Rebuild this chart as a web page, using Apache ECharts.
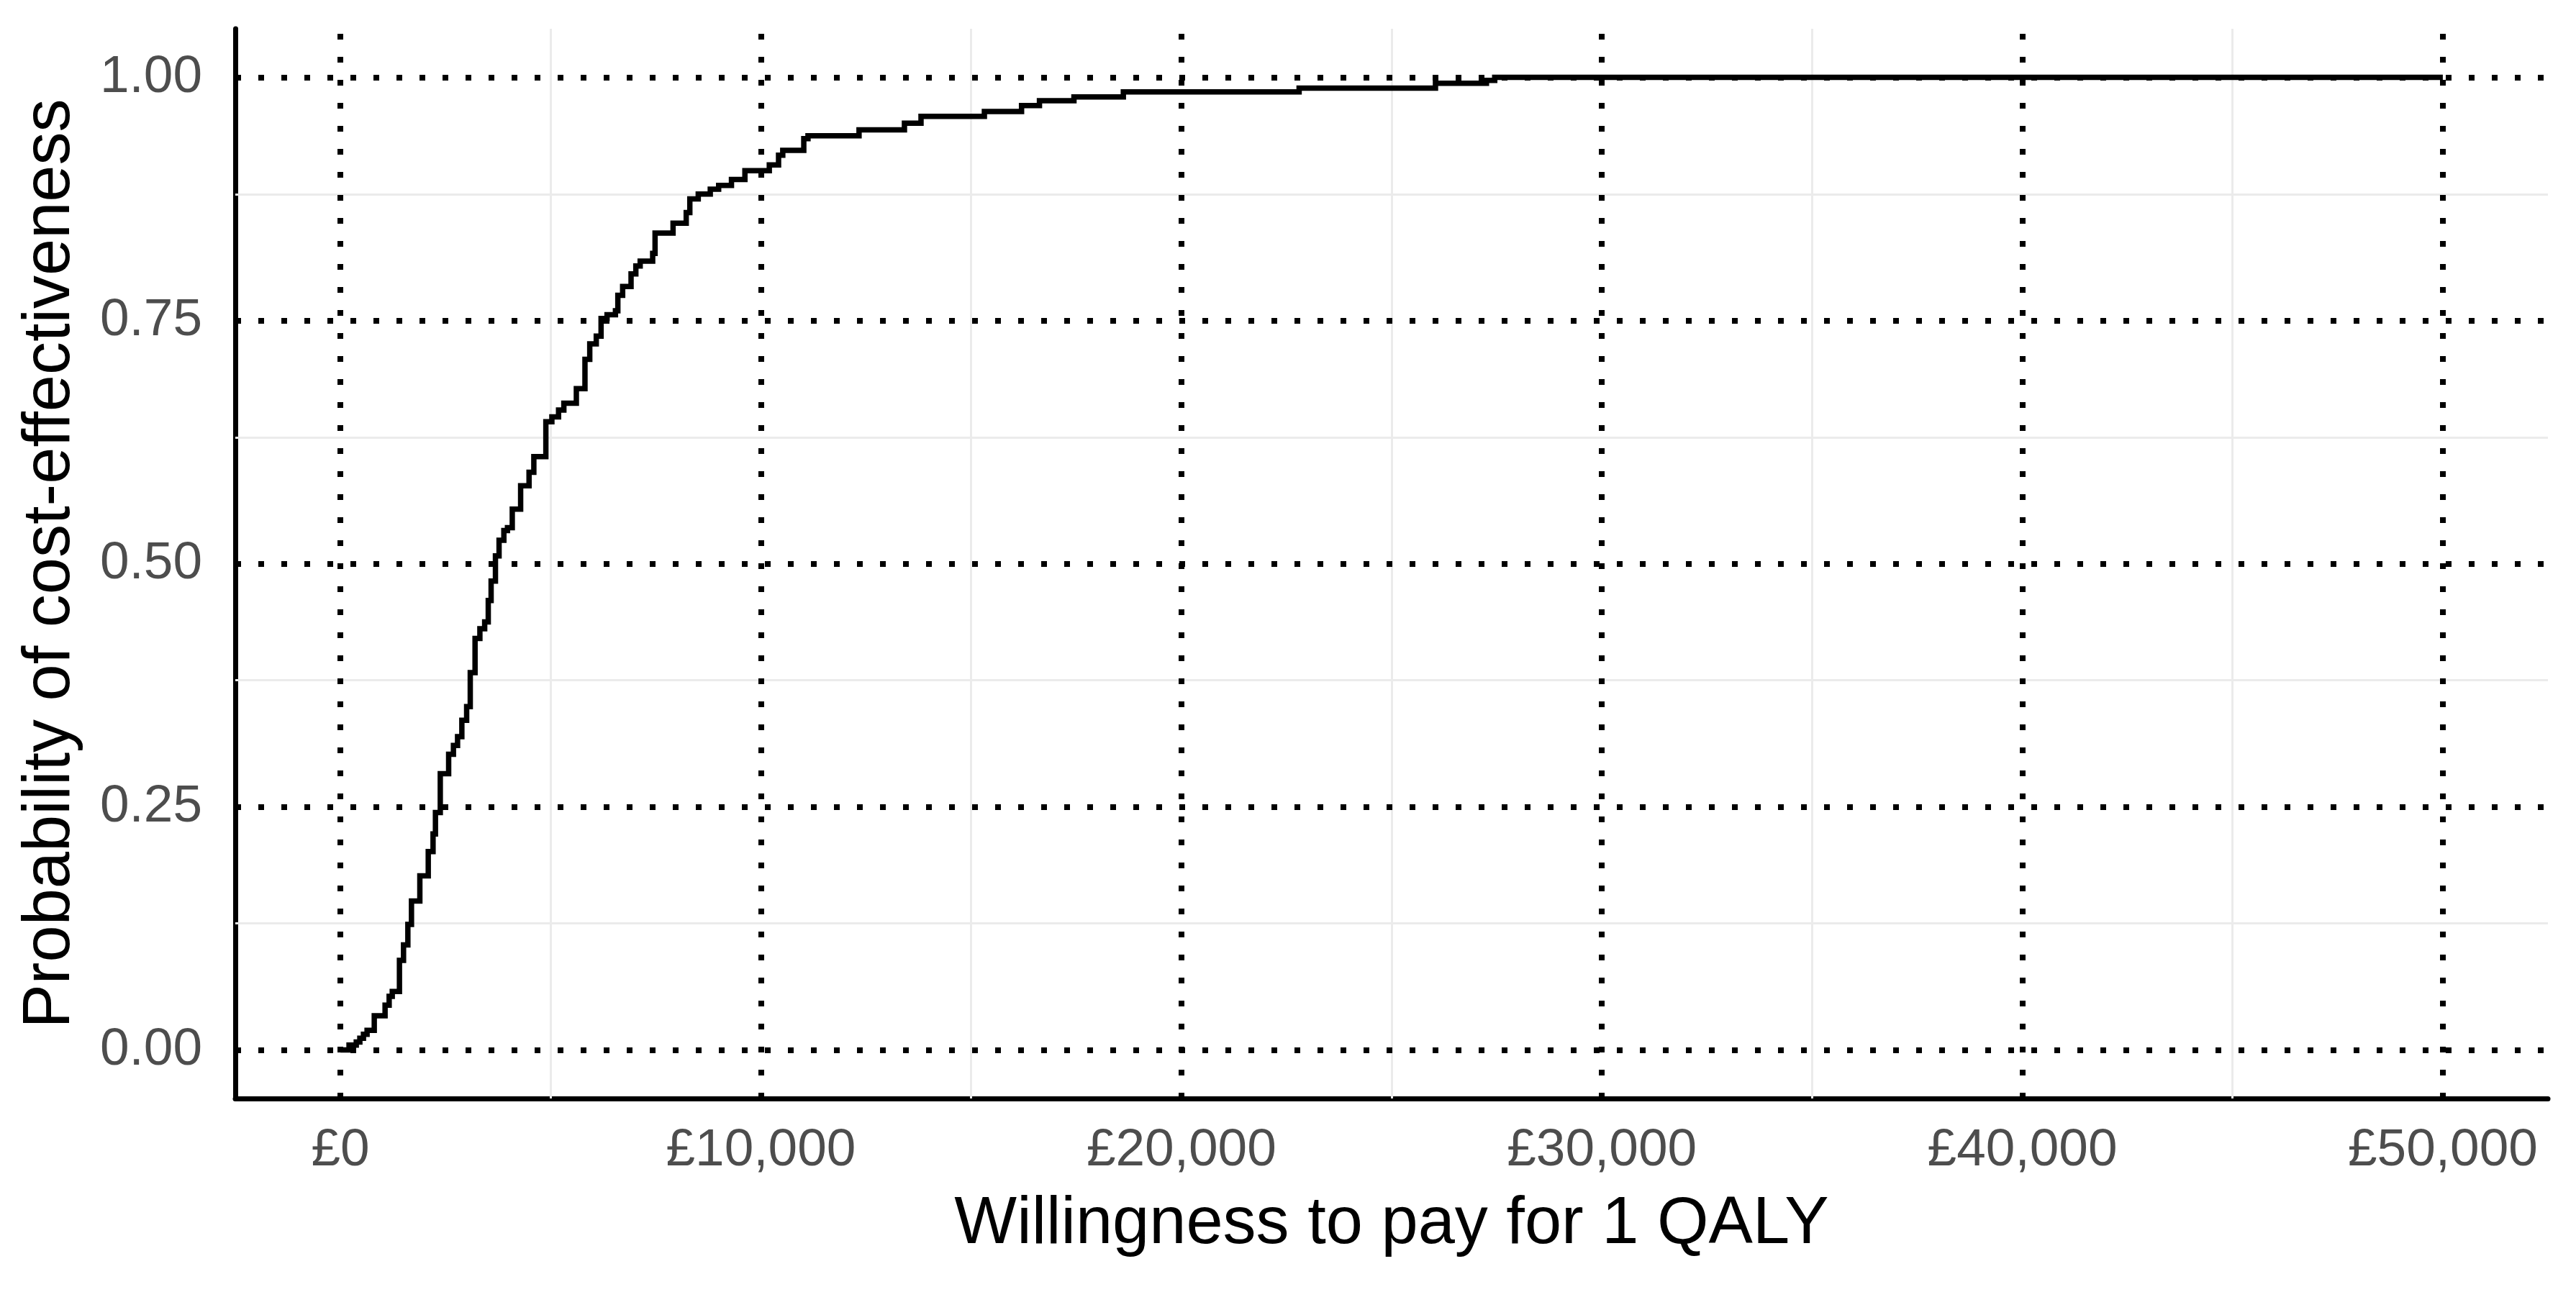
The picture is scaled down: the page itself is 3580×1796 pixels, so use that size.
<!DOCTYPE html>
<html>
<head>
<meta charset="utf-8">
<script src="https://cdn.jsdelivr.net/npm/echarts@6/dist/echarts.min.js"></script>
<style>
html,body{margin:0;padding:0;background:#ffffff;}
#chart{width:3580px;height:1796px;}
</style>
</head>
<body>
<div id="chart"></div>
<script>
// Willingness-to-pay thresholds (GBP) at which the step curve changes
const wtp = [0, 205, 377, 462, 548, 634, 805, 1062, 1159, 1233, 1404, 1501, 1604, 1690, 1889, 2089, 2203, 2260, 2375, 2574, 2688, 2786, 2888, 3002, 3088, 3202, 3317, 3431, 3516, 3584, 3687, 3773, 3887, 3973, 4087, 4286, 4486, 4600, 4886, 5029, 5188, 5314, 5611, 5816, 5930, 6085, 6199, 6341, 6541, 6598, 6712, 6912, 7026, 7129, 7426, 7483, 7911, 8224, 8310, 8510, 8796, 8995, 9300, 9620, 10200, 10420, 10520, 11020, 11120, 12334, 13414, 13808, 15315, 16199, 16625, 17445, 18620, 22800, 26043, 27255, 27452, 50000];
// Probability of cost-effectiveness at each threshold
const prob = [0, 0.005, 0.008, 0.012, 0.016, 0.020, 0.035, 0.046, 0.055, 0.060, 0.092, 0.108, 0.129, 0.153, 0.179, 0.204, 0.222, 0.244, 0.284, 0.304, 0.313, 0.322, 0.339, 0.353, 0.388, 0.423, 0.433, 0.440, 0.462, 0.482, 0.508, 0.524, 0.534, 0.537, 0.556, 0.580, 0.594, 0.610, 0.646, 0.651, 0.658, 0.665, 0.680, 0.710, 0.726, 0.734, 0.752, 0.756, 0.760, 0.776, 0.785, 0.798, 0.806, 0.811, 0.819, 0.840, 0.850, 0.861, 0.875, 0.880, 0.885, 0.889, 0.895, 0.904, 0.910, 0.920, 0.925, 0.937, 0.940, 0.946, 0.953, 0.960, 0.965, 0.971, 0.976, 0.980, 0.985, 0.989, 0.994, 0.997, 1.000, 1.000];

const xTicks = [0, 10000, 20000, 30000, 40000, 50000];
const yTicks = [0, 0.25, 0.5, 0.75, 1];
const xMinor = [5000, 15000, 25000, 35000, 45000];
const yMinor = [0.125, 0.375, 0.625, 0.875];

const xTitle = 'Willingness to pay for 1 QALY';
const yTitle = 'Probability of cost-effectiveness';

const FONT = '"Liberation Sans", Arial, sans-serif';

function gbp(v) {
  return '£' + String(v).replace(/\B(?=(\d{3})+(?!\d))/g, ',');
}

const curve = wtp.map((w, i) => [w, prob[i]]);

const minorLines = xMinor.map(v => ({xAxis: v})).concat(yMinor.map(v => ({yAxis: v})));
const majorLines = xTicks.map(v => ({xAxis: v})).concat(yTicks.map(v => ({yAxis: v})));

const chart = echarts.init(document.getElementById('chart'), null, {renderer: 'canvas'});
chart.setOption({
  animation: false,
  backgroundColor: '#ffffff',
  grid: {left: 327, right: 39, top: 40, bottom: 269, containLabel: false},
  xAxis: {
    type: 'value',
    min: -2500,
    max: 52500,
    name: xTitle,
    nameLocation: 'middle',
    nameGap: 130,
    nameTextStyle: {fontFamily: FONT, fontSize: 92, color: '#000000'},
    axisLine: {show: true, onZero: false, lineStyle: {color: '#000000', width: 7}},
    axisTick: {show: false},
    splitLine: {show: false},
    axisLabel: {
      customValues: xTicks,
      formatter: v => gbp(v),
      fontFamily: FONT, fontSize: 73, color: '#4D4D4D', margin: 36
    }
  },
  yAxis: {
    type: 'value',
    min: -0.05,
    max: 1.05,
    name: yTitle,
    nameLocation: 'middle',
    nameGap: 210,
    nameTextStyle: {fontFamily: FONT, fontSize: 92, color: '#000000'},
    axisLine: {show: true, onZero: false, lineStyle: {color: '#000000', width: 7}},
    axisTick: {show: false},
    splitLine: {show: false},
    axisLabel: {
      customValues: yTicks,
      formatter: v => Number(v).toFixed(2),
      fontFamily: FONT, fontSize: 73, color: '#4D4D4D', margin: 46
    }
  },
  series: [
    {
      name: 'minor-grid',
      type: 'line',
      data: [],
      silent: true,
      markLine: {
        silent: true, symbol: 'none', z: 1, animation: false,
        label: {show: false},
        lineStyle: {color: '#EBEBEB', width: 3, type: 'solid'},
        data: minorLines
      }
    },
    {
      name: 'major-dotted',
      type: 'line',
      data: [],
      silent: true,
      markLine: {
        silent: true, symbol: 'none', z: 2, animation: false,
        label: {show: false},
        lineStyle: {color: '#000000', width: 8, type: [8, 24], cap: 'butt'},
        data: majorLines
      }
    },
    {
      name: 'CEAC',
      type: 'line',
      step: 'end',
      z: 3,
      showSymbol: false,
      symbol: 'none',
      silent: true,
      lineStyle: {color: '#000000', width: 7.5, cap: 'butt', join: 'miter'},
      data: curve
    }
  ]
});
</script>
</body>
</html>
